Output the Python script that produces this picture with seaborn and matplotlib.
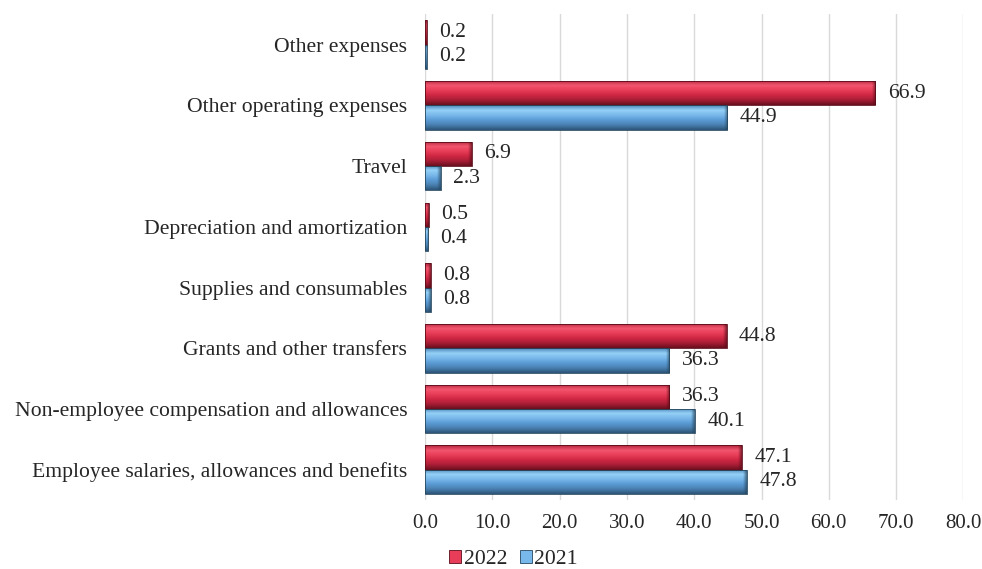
import numpy as np
import pandas as pd
import matplotlib
matplotlib.use("Agg")
import matplotlib.pyplot as plt
import seaborn as sns
from matplotlib.colors import LinearSegmentedColormap, to_rgba
from matplotlib.patches import Patch

categories = [
    "Other expenses",
    "Other operating expenses",
    "Travel",
    "Depreciation and amortization",
    "Supplies and consumables",
    "Grants and other transfers",
    "Non-employee compensation and allowances",
    "Employee salaries, allowances and benefits",
]
years = ["2022", "2021"]
values_2022 = [0.2, 66.9, 6.9, 0.5, 0.8, 44.8, 36.3, 47.1]
values_2021 = [0.2, 44.9, 2.3, 0.4, 0.8, 36.3, 40.1, 47.8]
x_ticks = [0, 10, 20, 30, 40, 50, 60, 70, 80]

df = pd.DataFrame({
    "category": categories * 2,
    "year": ["2022"] * len(categories) + ["2021"] * len(categories),
    "value": values_2022 + values_2021,
})

base_colors = {"2022": "#d42a46", "2021": "#5b9bd5"}
# top-to-bottom shading stops giving the bevelled look
shades = {
    "2022": ["#b0243a", "#f2566f", "#e83d58", "#cf2844", "#a81d35", "#6a0f1f"],
    "2021": ["#4a86b8", "#95d0f7", "#78b8ea", "#5b9bd5", "#4a80b0", "#2c5478"],
}
edge_colors = {"2022": "#5a0c18", "2021": "#26475f"}
FS = 15.6

sns.set_theme(style="white")
plt.rcParams["font.family"] = ["Liberation Serif", "DejaVu Serif"]

fig = plt.figure(figsize=(9.82, 5.69), dpi=100)
ax = fig.add_axes([0.433, 0.121, 0.548, 0.854])

sns.barplot(data=df, y="category", x="value", hue="year", order=categories,
            hue_order=years, palette=base_colors, orient="h", width=0.8,
            ax=ax, legend=False, saturation=1)

ax.set_xlim(0, 80)
ax.set_ylim(len(categories) - 0.5, -0.5)
xlim, ylim = ax.get_xlim(), ax.get_ylim()

# gradient fill clipped to each bar, with a darker bevel at the bar end
for container, year in zip(ax.containers, years):
    cmap = LinearSegmentedColormap.from_list(f"bev{year}", shades[year])
    grad = cmap(np.linspace(0, 1, 64))[:, None, :]
    end_rgba = np.zeros((1, 32, 4))
    end_rgba[..., :3] = to_rgba(edge_colors[year])[:3]
    end_rgba[..., 3] = np.linspace(0, 0.75, 32)
    for bar in container:
        x0, y0 = bar.get_x(), bar.get_y()
        w, h = bar.get_width(), bar.get_height()
        if w <= 0:
            continue
        im = ax.imshow(grad, extent=(x0, x0 + w, y0 + h, y0), origin="upper",
                       aspect="auto", interpolation="bilinear", zorder=2.1)
        im.set_clip_path(bar)
        bev = min(0.55, 0.5 * w)
        im2 = ax.imshow(end_rgba, extent=(x0 + w - bev, x0 + w, y0 + h, y0),
                        origin="upper", aspect="auto", interpolation="bilinear",
                        zorder=2.15)
        im2.set_clip_path(bar)
        bar.set_edgecolor(edge_colors[year])
        bar.set_linewidth(0.6)
        bar.set_zorder(2.2)
        bar.set_facecolor("none")
        ax.annotate(f"{w:.1f}", xy=(x0 + w, y0 + h / 2), xytext=(9, 0),
                    textcoords="offset points", ha="left", va="center",
                    fontsize=FS, color="#262626")

ax.set_xlim(xlim)
ax.set_ylim(ylim)

ax.set_xticks(x_ticks)
ax.set_xticklabels([f"{t:.1f}" for t in x_ticks])
ax.xaxis.grid(True, color="#d9d9d9", linewidth=1)
ax.set_axisbelow(True)
for s in ax.spines.values():
    s.set_visible(False)
ax.tick_params(axis="y", length=0, labelsize=FS, colors="#262626", pad=13)
ax.tick_params(axis="x", length=0, labelsize=15, colors="#262626", pad=10)
ax.set_xlabel("")
ax.set_ylabel("")

handles = [Patch(facecolor=shades[y][2], edgecolor=edge_colors[y], linewidth=0.6, label=y)
           for y in years]
fig.legend(handles=handles, loc="lower center", bbox_to_anchor=(0.523, -0.035), ncol=2,
           frameon=False, fontsize=FS, handlelength=0.55, handleheight=0.55,
           handletextpad=0.1, columnspacing=0.6)

fig.savefig("out.png", dpi=100)
